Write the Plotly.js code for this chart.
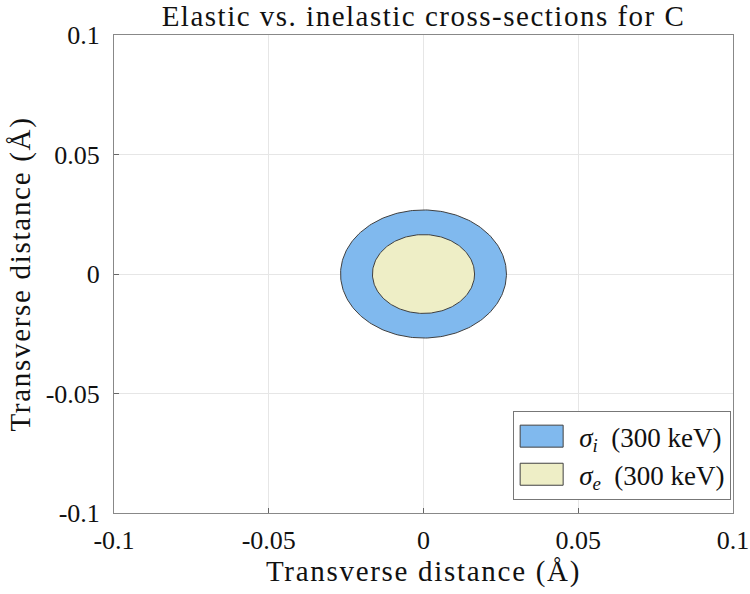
<!DOCTYPE html>
<html>
<head>
<meta charset="utf-8">
<script src="https://cdn.plot.ly/plotly-3.0.1.min.js"></script>
<style>
html,body{margin:0;padding:0;background:#fff;}
#chart{width:750px;height:594px;}
#chart .gtitle{letter-spacing:1.5px;}
#chart .xtitle,#chart .ytitle{letter-spacing:1.7px;}
</style>
</head>
<body>
<div id="chart"></div>
<script>
// Data
const seriesNames = ['<i>σ</i><sub><i>i</i></sub>&nbsp; (300 keV)', '<i>σ</i><sub><i>e</i></sub>&nbsp; (300 keV)'];
const radii = [0.0268, 0.0165];          // cross-section radius (Å)
const centerX = [0, 0];
const centerY = [0, 0];
const fillColors = ['#80b9ee', '#eeeec6'];
const tickVals = [-0.1, -0.05, 0, 0.05, 0.1];
const tickText = ['-0.1', '-0.05', '0', '0.05', '0.1'];

const FONT = 'Liberation Serif, DejaVu Serif, serif';
const N = 240;
const traces = radii.map((r, k) => {
  const xs = [], ys = [];
  for (let i = 0; i <= N; i++) {
    const t = 2 * Math.PI * i / N;
    xs.push(centerX[k] + r * Math.cos(t));
    ys.push(centerY[k] + r * Math.sin(t));
  }
  return {
    type: 'scatter', mode: 'lines', x: xs, y: ys,
    fill: 'toself', fillcolor: fillColors[k],
    line: {color: '#404040', width: 1},
    name: seriesNames[k], legendgroup: 'g' + k, hoverinfo: 'skip'
  };
});

const axisCommon = {
  range: [-0.1, 0.1], tickvals: tickVals, ticktext: tickText,
  ticks: 'inside', ticklen: 5, tickcolor: '#666', tickwidth: 1,
  showgrid: true, gridcolor: '#e6e6e6', gridwidth: 1,
  zeroline: false, showline: true, linecolor: '#888', linewidth: 1, mirror: true,
  tickfont: {family: FONT, size: 26, color: '#111'},
  fixedrange: true
};

const layout = {
  width: 750, height: 594,
  margin: {l: 114, r: 17, t: 35, b: 81},
  paper_bgcolor: '#fff', plot_bgcolor: '#fff',
  title: {text: 'Elastic vs. inelastic cross-sections for C', font: {family: FONT, size: 29, color: '#111'},
          x: 0.5, xref: 'paper', y: 1 - 16/594, yref: 'container', yanchor: 'middle'},
  xaxis: Object.assign({}, axisCommon, {
    ticklabelstandoff: 4,
    title: {text: 'Transverse distance (Å)', font: {family: FONT, size: 29, color: '#111'}, standoff: 6}
  }),
  yaxis: Object.assign({}, axisCommon, {
    ticklabelstandoff: 8,
    title: {text: 'Transverse distance (Å)', font: {family: FONT, size: 29, color: '#111'}, standoff: 6}
  }),
  showlegend: true,
  legend: {
    x: 0.997, xanchor: 'right', y: 0.027, yanchor: 'bottom',
    bgcolor: '#fff', bordercolor: '#777', borderwidth: 1,
    font: {family: FONT, size: 27, color: '#111'},
    itemwidth: 55, tracegroupgap: 0
  }
};

Plotly.newPlot('chart', traces, layout, {staticPlot: true, displayModeBar: false}).then(() => {
  // MATLAB-style rectangular patch swatches in the legend
  document.querySelectorAll('#chart .legend .traces').forEach((g, k) => {
    g.querySelectorAll('.legendfill path').forEach(p => {
      p.setAttribute('d', 'M6,-11h43v22h-43z');
      p.style.fill = fillColors[k];
      p.style.stroke = '#404040';
      p.style.strokeWidth = '1px';
      p.style.opacity = 1;
    });
    g.querySelectorAll('.legendlines path').forEach(p => { p.style.display = 'none'; });
  });
});
</script>
</body>
</html>
